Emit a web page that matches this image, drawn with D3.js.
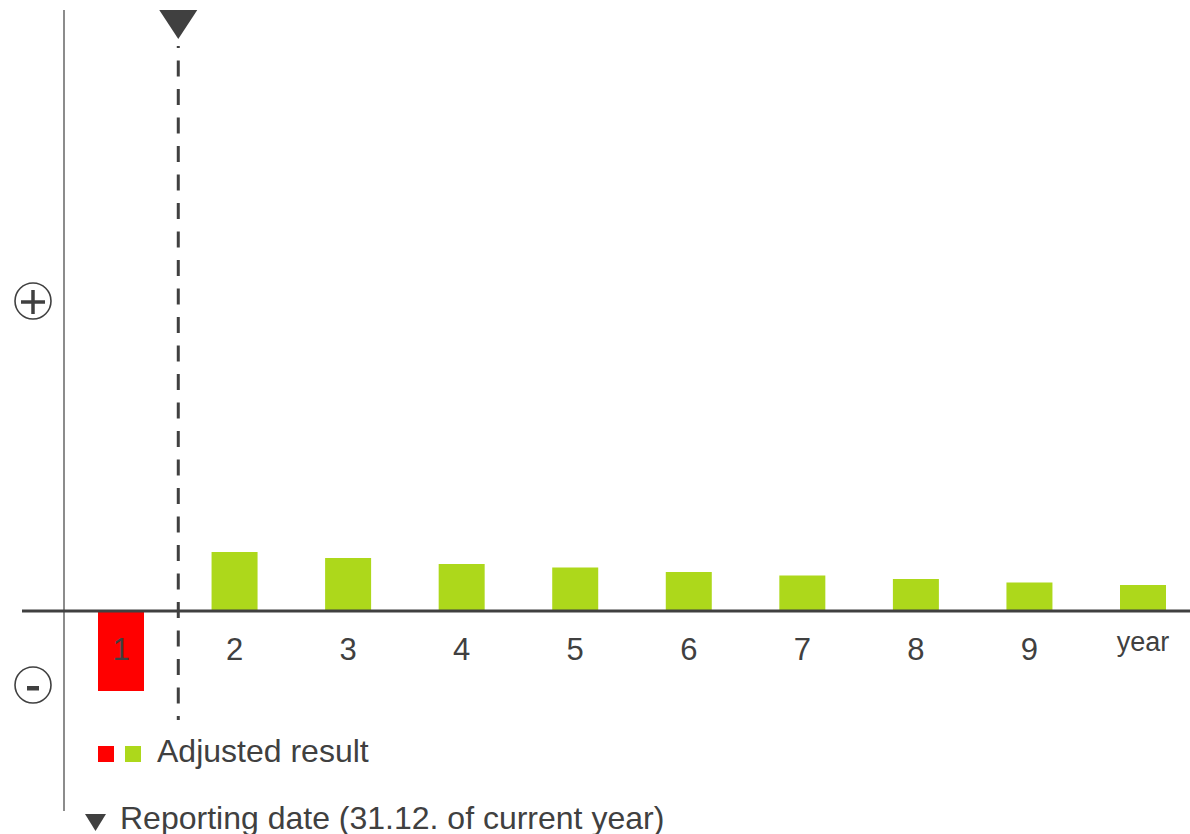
<!DOCTYPE html>
<html>
<head>
<meta charset="utf-8">
<script src="https://cdn.jsdelivr.net/npm/d3@7"></script>
<style>
  html, body { margin: 0; padding: 0; background: #fff; }
  svg { display: block; font-family: "Liberation Sans", Arial, sans-serif; }
</style>
</head>
<body>
<svg id="chart" width="1190" height="834"></svg>
<script>
// Years after the reporting date and the adjusted result per year
const categories = ["1", "2", "3", "4", "5", "6", "7", "8", "9", "10"];
const tickLabels = ["1", "2", "3", "4", "5", "6", "7", "8", "9", "year"];
const adjustedResult = [-80, 59, 53, 47, 43.5, 39, 35.5, 32, 28.5, 26];
const legendLabels = ["Adjusted result", "Reporting date (31.12. of current year)"];

const ink = "#404040";
const red = "#ff0000";
const green = "#add81b";

const svg = d3.select("#chart");

const x = d3.scalePoint().domain(categories).range([121, 1143]);
const y = d3.scaleLinear().domain([-100, 600]).range([711, 11]);
const barW = 46;
const y0 = y(0);

// bars
svg.append("g").selectAll("rect")
  .data(adjustedResult)
  .join("rect")
  .attr("x", (d, i) => x(categories[i]) - barW / 2)
  .attr("y", d => d >= 0 ? y(d) : y0 + 1)
  .attr("width", barW)
  .attr("height", d => d >= 0 ? y0 - y(d) : y(d) - y0 - 1)
  .attr("fill", d => d >= 0 ? green : red);

// vertical axis
svg.append("line")
  .attr("x1", 64).attr("x2", 64).attr("y1", 10).attr("y2", 811)
  .attr("stroke", "#8c8c8c").attr("stroke-width", 2);

// horizontal zero line
svg.append("line")
  .attr("x1", 22).attr("x2", 1190).attr("y1", y0).attr("y2", y0)
  .attr("stroke", ink).attr("stroke-width", 3);

// category labels
svg.append("g").selectAll("text")
  .data(tickLabels)
  .join("text")
  .attr("x", (d, i) => x(categories[i]))
  .attr("y", (d, i) => i === 9 ? 651 : 660)
  .attr("text-anchor", "middle")
  .attr("font-size", (d, i) => i === 9 ? 27 : 31)
  .attr("fill", ink)
  .text(d => d);

// reporting date marker: dashed line between year 1 and 2
const xRep = (x("1") + x("2")) / 2 + 0.5;
svg.append("line")
  .attr("x1", xRep).attr("x2", xRep).attr("y1", 46).attr("y2", 720)
  .attr("stroke", ink).attr("stroke-width", 3)
  .attr("stroke-dasharray", "16 12.5")
  .attr("stroke-dashoffset", 14);
svg.append("path")
  .attr("d", d3.line()([[xRep - 19, 10], [xRep + 19, 10], [xRep, 39]]) + "Z")
  .attr("fill", ink);

// plus / minus signs
function sign(cx, cy, plus) {
  const g = svg.append("g");
  g.append("circle").attr("cx", cx).attr("cy", cy).attr("r", 18)
    .attr("fill", "none").attr("stroke", ink).attr("stroke-width", 1.6);
  if (plus) {
    g.append("line").attr("x1", cx - 12).attr("x2", cx + 12).attr("y1", cy + 1).attr("y2", cy + 1)
      .attr("stroke", ink).attr("stroke-width", 3.5);
    g.append("line").attr("x1", cx).attr("x2", cx).attr("y1", cy - 11).attr("y2", cy + 13)
      .attr("stroke", ink).attr("stroke-width", 3.5);
  } else {
    g.append("rect").attr("x", cx - 6).attr("y", cy + 1).attr("width", 12).attr("height", 4.5)
      .attr("fill", ink);
  }
}
sign(33, 301, true);
sign(33, 685, false);

// legend
svg.append("rect").attr("x", 98).attr("y", 746).attr("width", 16).attr("height", 16).attr("fill", red);
svg.append("rect").attr("x", 125).attr("y", 746).attr("width", 16).attr("height", 16).attr("fill", green);
svg.append("text").attr("x", 157).attr("y", 762).attr("font-size", 32).attr("fill", ink).text(legendLabels[0]);

svg.append("path")
  .attr("d", d3.line()([[85, 814], [106, 814], [95.5, 831]]) + "Z")
  .attr("fill", ink);
svg.append("text").attr("x", 120).attr("y", 829).attr("font-size", 32).attr("fill", ink).text(legendLabels[1]);
</script>
</body>
</html>
